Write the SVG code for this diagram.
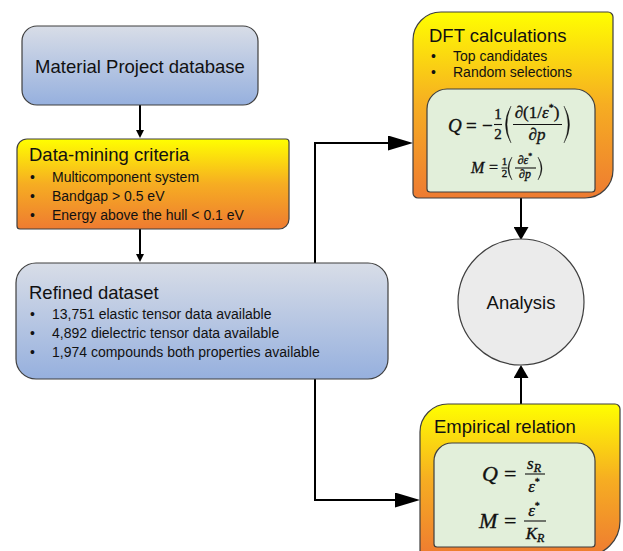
<svg xmlns="http://www.w3.org/2000/svg" width="623" height="551" viewBox="0 0 623 551">
<defs>
<linearGradient id="gBlue" x1="0" y1="0" x2="0" y2="1">
<stop offset="0" stop-color="#d8dde7"/>
<stop offset="1" stop-color="#96b0de"/>
</linearGradient>
<linearGradient id="gOrange" x1="0" y1="0" x2="0" y2="1">
<stop offset="0" stop-color="#ffff00"/>
<stop offset="0.5" stop-color="#f6ad22"/>
<stop offset="1" stop-color="#ee7b31"/>
</linearGradient>
<marker id="aS" markerWidth="8" markerHeight="10" refX="5" refY="5" orient="auto" markerUnits="userSpaceOnUse" viewBox="0 0 10 10">
<path d="M0,0 L10,5 L0,10 Z" fill="#000"/>
</marker>
<marker id="aM" markerWidth="13" markerHeight="15" refX="5" refY="7.5" orient="auto" markerUnits="userSpaceOnUse" viewBox="0 0 13 15">
<path d="M0,0 L13,7.5 L0,15 Z" fill="#000"/>
</marker>
<marker id="aL" markerWidth="25" markerHeight="15" refX="15" refY="7.5" orient="auto" markerUnits="userSpaceOnUse" viewBox="0 0 25 15">
<path d="M0,0 L25,7.5 L0,15 Z" fill="#000"/>
</marker>
</defs>
<style>
.box{stroke:#3f3f3f;stroke-width:1.2}
.inner{fill:#e2efda;stroke:#3f3f3f;stroke-width:1.2}
.title{font-family:"Liberation Sans",Arial,sans-serif;font-size:18.5px;fill:#111}
.item{font-family:"Liberation Sans",Arial,sans-serif;font-size:14px;fill:#111}
.conn{fill:none;stroke:#000;stroke-width:2}
.m{font-family:"Liberation Serif","Times New Roman",serif;fill:#111;stroke:#111;stroke-width:0.35}
.i{font-style:italic}
.fl{stroke:#111;stroke-width:1.1}
</style>

<g id="connectors">
<path class="conn" d="M140,105 V134" marker-end="url(#aS)"/>
<path class="conn" d="M140,229 V258" marker-end="url(#aS)"/>
<path class="conn" d="M315,263 V143 H403" marker-end="url(#aL)"/>
<path class="conn" d="M315,379 V500 H410" marker-end="url(#aL)"/>
<path class="conn" d="M521,198 V232" marker-end="url(#aM)"/>
<path class="conn" d="M521,404 V373" marker-end="url(#aM)"/>
</g>

<g id="material-project">
<rect class="box" x="22" y="26" width="236" height="79" rx="15" fill="url(#gBlue)"/>
<text class="title" x="140" y="73" text-anchor="middle">Material Project database</text>
</g>

<g id="data-mining">
<path class="box" fill="url(#gOrange)" d="M27,139 H286 A3,3 0 0 1 289,142 V219 A10,10 0 0 1 279,229 H20 A3,3 0 0 1 17,226 V149 A10,10 0 0 1 27,139 Z"/>
<text class="title" x="29" y="161">Data-mining criteria</text>
<text class="item" x="30" y="182">•</text><text class="item" x="52" y="182">Multicomponent system</text>
<text class="item" x="30" y="201">•</text><text class="item" x="52" y="201">Bandgap &gt; 0.5 eV</text>
<text class="item" x="30" y="220">•</text><text class="item" x="52" y="220">Energy above the hull &lt; 0.1 eV</text>
</g>

<g id="refined-dataset">
<rect class="box" x="16" y="263" width="372" height="116" rx="20" fill="url(#gBlue)"/>
<text class="title" x="29" y="299">Refined dataset</text>
<text class="item" x="30" y="319">•</text><text class="item" x="52" y="319">13,751 elastic tensor data available</text>
<text class="item" x="30" y="338">•</text><text class="item" x="52" y="338">4,892 dielectric tensor data available</text>
<text class="item" x="30" y="357">•</text><text class="item" x="52" y="357">1,974 compounds both properties available</text>
</g>

<g id="dft">
<path class="box" fill="url(#gOrange)" d="M441,12 H608 A5,5 0 0 1 613,17 V170 A28,28 0 0 1 585,198 H418 A5,5 0 0 1 413,193 V40 A28,28 0 0 1 441,12 Z"/>
<text class="title" x="429" y="42">DFT calculations</text>
<text class="item" x="431" y="61">•</text><text class="item" x="453" y="61">Top candidates</text>
<text class="item" x="431" y="77">•</text><text class="item" x="453" y="77">Random selections</text>
<path class="inner" d="M447,89 H575 A20,20 0 0 1 595,109 V189 A3,3 0 0 1 592,192 H430 A3,3 0 0 1 427,189 V109 A20,20 0 0 1 447,89 Z"/>
<g class="m">
<text class="i" x="448" y="132" font-size="19">Q</text>
<text x="466" y="132" font-size="19">=</text>
<text x="482" y="132" font-size="19">−</text>
<text x="498" y="119" font-size="15" text-anchor="middle">1</text>
<line class="fl" x1="494" y1="124.5" x2="502" y2="124.5"/>
<text x="498" y="139" font-size="15" text-anchor="middle">2</text>
<path d="M511,106 Q500,124.5 511,143 Q503,124.5 511,106 Z" fill="#111"/>
<text x="537" y="118" font-size="17" text-anchor="middle"><tspan class="i">∂</tspan>(1/<tspan class="i">ε</tspan><tspan font-size="10" dy="-7">*</tspan><tspan dy="7">)</tspan></text>
<line class="fl" x1="513" y1="124.5" x2="562" y2="124.5"/>
<text x="537" y="140" font-size="17" text-anchor="middle" class="i">∂p</text>
<path d="M564,106 Q575,124.5 564,143 Q572,124.5 564,106 Z" fill="#111"/>

<text class="i" x="471" y="173" font-size="16">M</text>
<text x="489" y="173" font-size="16">=</text>
<text x="504.5" y="165" font-size="11" text-anchor="middle">1</text>
<line class="fl" x1="501.5" y1="168" x2="507.5" y2="168"/>
<text x="504.5" y="177" font-size="11" text-anchor="middle">2</text>
<path d="M512,157 Q504,168.5 512,180 Q506,168.5 512,157 Z" fill="#111"/>
<text x="525" y="164" font-size="12" text-anchor="middle"><tspan class="i">∂ε</tspan><tspan font-size="8" dy="-5">*</tspan></text>
<line class="fl" x1="515" y1="168" x2="536" y2="168"/>
<text x="525" y="178" font-size="12" text-anchor="middle" class="i">∂p</text>
<path d="M538,157 Q546,168.5 538,180 Q544,168.5 538,157 Z" fill="#111"/>
</g>
</g>

<g id="analysis">
<circle cx="521" cy="302" r="63" fill="#ebebeb" stroke="#3f3f3f" stroke-width="1.2"/>
<text class="title" x="521" y="309" text-anchor="middle">Analysis</text>
</g>

<g id="empirical">
<path class="box" fill="url(#gOrange)" d="M448,404 H615 A5,5 0 0 1 620,409 V521 A35,35 0 0 1 585,556 H425 A5,5 0 0 1 420,551 V432 A28,28 0 0 1 448,404 Z"/>
<text class="title" x="434" y="433">Empirical relation</text>
<path class="inner" d="M452,443 H577 A18,18 0 0 1 595,461 V544 A3,3 0 0 1 592,547 H437 A3,3 0 0 1 434,544 V461 A18,18 0 0 1 452,443 Z"/>
<g class="m">
<text class="i" x="482" y="481" font-size="22">Q</text>
<text x="504" y="481" font-size="22">=</text>
<text x="534" y="469" font-size="17" text-anchor="middle"><tspan class="i">s</tspan><tspan class="i" font-size="12" dy="3">R</tspan></text>
<line class="fl" x1="525" y1="474" x2="545" y2="474"/>
<text x="534" y="492" font-size="17" text-anchor="middle"><tspan class="i">ε</tspan><tspan font-size="10" dy="-7">*</tspan></text>

<text class="i" x="479" y="528" font-size="22">M</text>
<text x="504" y="528" font-size="22">=</text>
<text x="534" y="516" font-size="17" text-anchor="middle"><tspan class="i">ε</tspan><tspan font-size="10" dy="-7">*</tspan></text>
<line class="fl" x1="524" y1="521" x2="546" y2="521"/>
<text x="535" y="539" font-size="17" text-anchor="middle"><tspan class="i">K</tspan><tspan class="i" font-size="12" dy="3">R</tspan></text>
</g>
</g>
</svg>
